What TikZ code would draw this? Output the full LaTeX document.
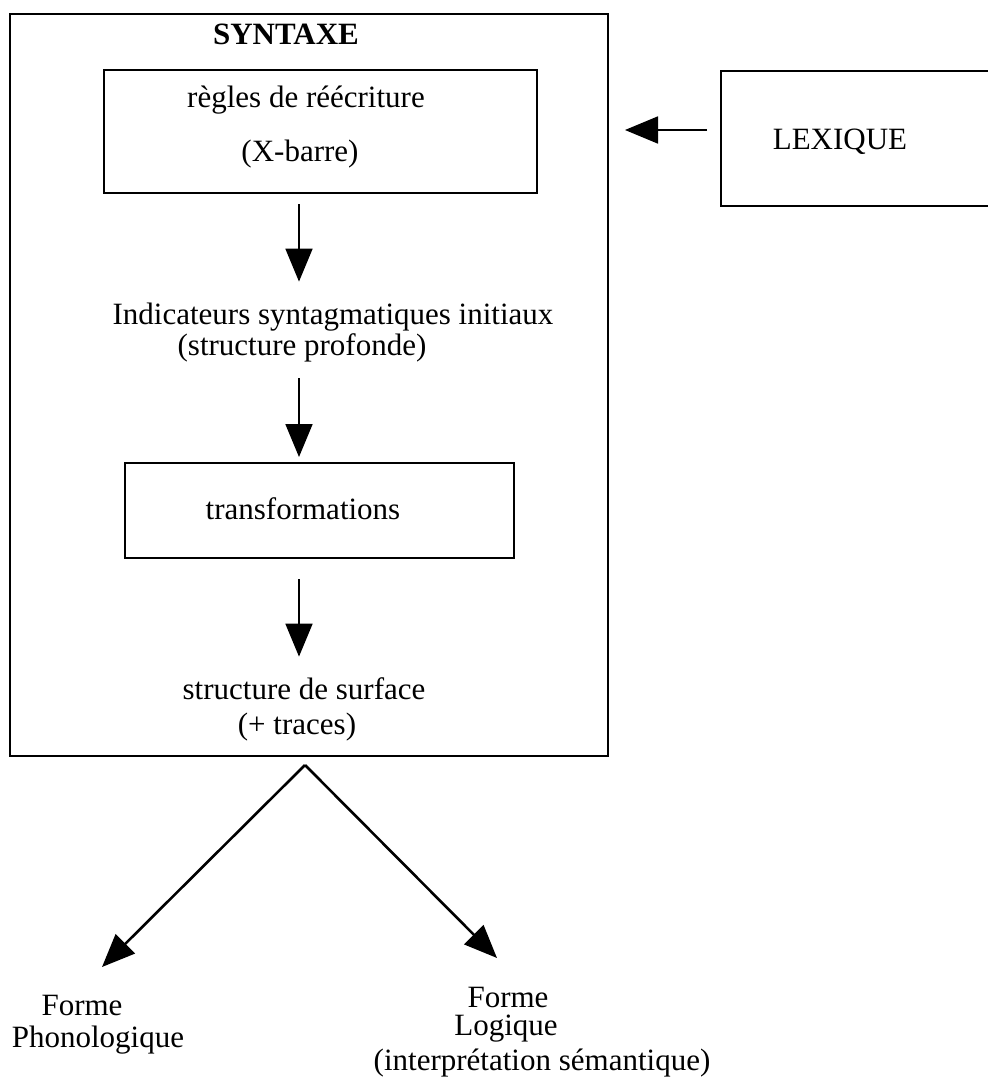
\documentclass[tikz,border=0pt]{standalone}
\usepackage{fontspec}
\setmainfont{Liberation Serif}
\usetikzlibrary{arrows.meta}

\begin{document}
\begin{tikzpicture}[x=0.5pt,y=-0.5pt,
    font=\fontsize{15.5pt}{18pt}\selectfont,
    box/.style={draw,rectangle,line width=1pt,inner sep=0},
    txt/.style={inner sep=0,anchor=base,text height=11pt,text depth=3pt},
    arr/.style={line width=0.9pt,-{Triangle[length=16.5pt,width=13.5pt]}}]

\useasboundingbox (0,0) rectangle (988,1086);

% Syntax block
\node[box,
    minimum width=299pt,
    minimum height=371pt] (syntaxe) at (309,385) {};
\node[txt,font=\fontsize{15.5pt}{18pt}\selectfont\bfseries] (titre) at (286,45) {SYNTAXE};

% Rewriting rules
\node[box,
    minimum width=216.5pt,
    minimum height=61.5pt] (regles) at (320.5,131.5) {};
\node[txt] (regles1) at (306,108) {règles de réécriture};
\node[txt] (regles2) at (300,162) {(X-barre)};

% Deep structure
\node[txt] (ind1) at (333,324) {Indicateurs syntagmatiques initiaux};
\node[txt] (ind2) at (302,355) {(structure profonde)};

% Transformations
\node[box,
    minimum width=194.5pt,
    minimum height=47.5pt] (trans) at (319.5,510.5) {};
\node[txt] (transtxt) at (303,519) {transformations};

% Surface structure
\node[txt] (surf1) at (304,699) {structure de surface};
\node[txt] (surf2) at (297,734) {(+ traces)};

% Lexicon
\node[box,
    minimum width=144.5pt,
    minimum height=67.5pt] (lexique) at (865.5,138.5) {};
\node[txt] (lextxt) at (840,149) {LEXIQUE};

% Interfaces
\node[txt] (pf1) at (82,1015) {Forme};
\node[txt] (pf2) at (98,1047) {Phonologique};
\node[txt] (fl1) at (508,1007) {Forme};
\node[txt] (fl2) at (506,1035) {Logique};
\node[txt] (fl3) at (542,1070) {(interprétation sémantique)};

\coordinate (axe) at (299,0);
\coordinate (fourche) at (305,765);
\coordinate (pointePF) at (102,967);
\coordinate (pointeFL) at (497,958);

% Arrows
\draw[arr,shorten <=5pt,shorten >=10pt] (regles.south -| axe) -- (ind1.north -| axe);
\draw[arr,shorten <=8.5pt,shorten >=2.5pt] (ind2.south -| axe) -- (trans.north -| axe);
\draw[arr,shorten <=10pt,shorten >=10pt] (trans.south -| axe) -- (surf1.north -| axe);

\draw[arr,shorten <=6.5pt,shorten >=8pt] ([yshift=4.25pt]lexique.west)
    -- ([yshift=4.25pt]lexique.west -| syntaxe.east);

\draw[arr,line width=1.3pt] (fourche) -- (pointePF);
\draw[arr,line width=1.3pt] (fourche) -- (pointeFL);

\end{tikzpicture}
\end{document}
